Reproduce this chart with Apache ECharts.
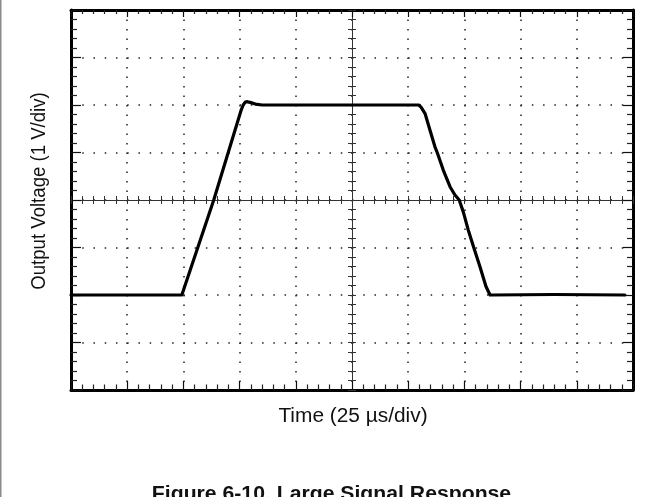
<!DOCTYPE html>
<html><head><meta charset="utf-8">
<script src="https://cdn.jsdelivr.net/npm/echarts@6/dist/echarts.min.js"></script>
<style>html,body{margin:0;padding:0;background:#fff}#c{width:661px;height:497px}</style>
</head><body><div id="c"></div>
<script>
// Time in microseconds (25 µs/div), output voltage in volts (1 V/div)
const timeUs  = [0, 49.3, 63.5, 75.6, 76.6, 77.5, 78.5, 80, 82, 85,
                 154.7, 155.8, 157.5, 159.7, 161.9, 162.9, 165.6, 168.6, 170.8, 172.7,
                 174.5, 176.7, 179.3, 181.9, 184.6, 186.4, 187.5, 215, 246.4];
const outputV = [-2, -2, 0, 1.88, 2.0, 2.06, 2.07, 2.05, 2.02, 2.0,
                 2.0, 1.95, 1.82, 1.47, 1.12, 1.0, 0.63, 0.28, 0.105, 0.0,
                 -0.25, -0.63, -1.02, -1.4, -1.82, -2.0, -2.0, -1.99, -2.0];
const xRange = [0, 250];   // 10 divisions of 25 µs
const yRange = [-4, 4];    // 8 divisions of 1 V
const xLabel = 'Time (25 µs/div)';
const yLabel = 'Output Voltage (1 V/div)';
const figTitle = 'Figure 6-10. Large Signal Response';

const FONT = '"Liberation Sans", Arial, sans-serif';
const G = {left: 71, top: 10, width: 562, height: 380};
const cx = G.left + G.width / 2, cy = G.top + G.height / 2;

function frameAxis(kind, pos, grid, majorLen, minorLen, split) {
  const isX = kind === 'x';
  return {
    type: 'value', gridIndex: grid, position: pos,
    min: isX ? xRange[0] : yRange[0], max: isX ? xRange[1] : yRange[1],
    interval: isX ? 25 : 1,
    axisLine: {show: true, onZero: false, lineStyle: {color: '#000', width: 3}},
    axisTick: {show: true, inside: true, length: majorLen, lineStyle: {color: '#111', width: 1.2}},
    minorTick: {show: true, splitNumber: 5, length: minorLen, lineStyle: {color: '#222', width: 1.2}},
    axisLabel: {show: false},
    splitLine: split ? {show: true, lineStyle: {color: '#222', width: 1.5, type: isX ? [1.5, 8] : [1.5, 9.74], cap: 'butt'}} : {show: false},
    minorSplitLine: {show: false}
  };
}
function centerAxis(kind, pos, grid) {
  const isX = kind === 'x';
  return {
    type: 'value', gridIndex: grid, position: pos,
    min: isX ? xRange[0] : yRange[0], max: isX ? xRange[1] : yRange[1],
    interval: isX ? 25 : 1,
    axisLine: {show: true, onZero: false, lineStyle: {color: '#333', width: 1}},
    axisTick: {show: true, inside: true, length: 4, lineStyle: {color: '#333', width: 1}},
    minorTick: {show: true, splitNumber: 5, length: 4, lineStyle: {color: '#333', width: 1}},
    axisLabel: {show: false}, splitLine: {show: false}
  };
}
function hiddenAxis(kind, grid) {
  const isX = kind === 'x';
  return {type: 'value', gridIndex: grid, show: false,
    min: isX ? xRange[0] : yRange[0], max: isX ? xRange[1] : yRange[1]};
}

const chart = echarts.init(document.getElementById('c'), null, {renderer: 'canvas'});
chart.setOption({
  animation: false,
  backgroundColor: '#fff',
  grid: [
    {left: G.left, top: G.top, width: G.width, height: G.height},
    {left: G.left, top: G.top, width: G.width, height: G.height / 2},
    {left: G.left, top: cy, width: G.width, height: G.height / 2},
    {left: G.left, top: G.top, width: G.width / 2, height: G.height},
    {left: cx, top: G.top, width: G.width / 2, height: G.height}
  ],
  xAxis: [
    frameAxis('x', 'bottom', 0, 9, 5.5, true),
    frameAxis('x', 'top', 0, 7, 4, false),
    centerAxis('x', 'bottom', 1),
    centerAxis('x', 'top', 2),
    hiddenAxis('x', 3),
    hiddenAxis('x', 4)
  ],
  yAxis: [
    frameAxis('y', 'left', 0, 10, 6, true),
    frameAxis('y', 'right', 0, 10, 6, false),
    hiddenAxis('y', 1),
    hiddenAxis('y', 2),
    centerAxis('y', 'right', 3),
    centerAxis('y', 'left', 4)
  ],
  series: [{
    type: 'line', xAxisIndex: 0, yAxisIndex: 0,
    data: timeUs.map((t, i) => [t, outputV[i]]),
    showSymbol: false, symbol: 'none', z: 10,
    lineStyle: {color: '#000', width: 3.2, join: 'round', cap: 'round'}
  }],
  graphic: [
    {type: 'rect', shape: {x: 0, y: 0, width: 1.5, height: 497}, style: {fill: '#8a8a8a'}},
    {type: 'text', x: 39, y: 191, rotation: Math.PI / 2, scaleX: 0.93,
     style: {text: yLabel, font: '20px ' + FONT, fill: '#111', align: 'center', verticalAlign: 'middle'}},
    {type: 'text', x: 353, y: 416.5, scaleX: 1.07,
     style: {text: xLabel, font: '19.5px ' + FONT, fill: '#111', align: 'center', verticalAlign: 'middle'}},
    {type: 'text', x: 331.5, y: 494.5, scaleX: 1.06,
     style: {text: figTitle, font: 'bold 20px ' + FONT, fill: '#111', align: 'center', verticalAlign: 'middle'}}
  ]
});
</script></body></html>
